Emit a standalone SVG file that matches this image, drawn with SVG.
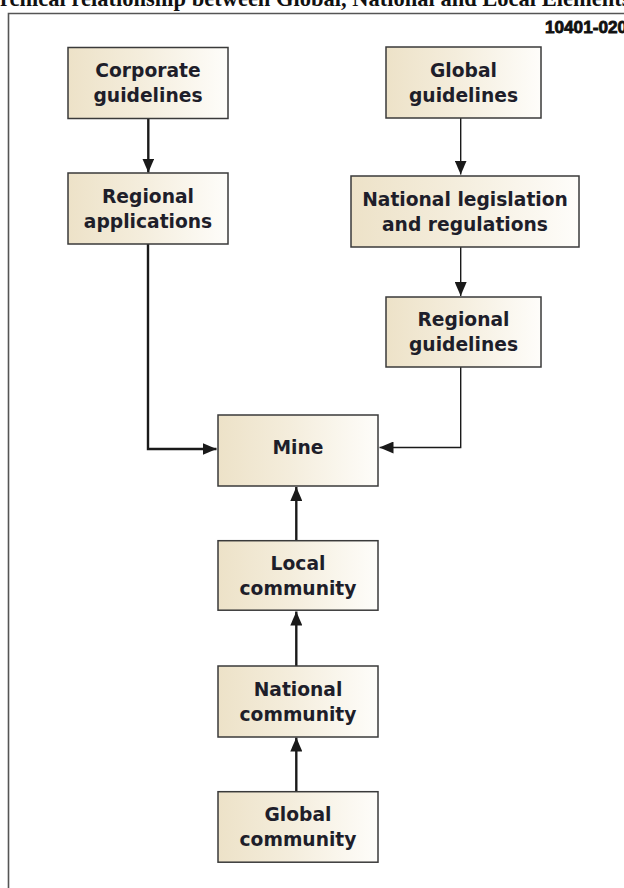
<svg xmlns="http://www.w3.org/2000/svg" width="624" height="888" viewBox="0 0 624 888">
<defs>
<linearGradient id="bf" x1="0" y1="0" x2="1" y2="0">
<stop offset="0" stop-color="#ede2c8"/>
<stop offset="0.45" stop-color="#f4eddc"/>
<stop offset="1" stop-color="#fefdfa"/>
</linearGradient>
<marker id="ah" markerUnits="userSpaceOnUse" markerWidth="14" markerHeight="12" refX="14" refY="6" orient="auto">
<path d="M0,0 L14,6 L0,12 z" fill="#1a1a1a"/>
</marker>
</defs>
<style>
.box{fill:url(#bf);stroke:#3a3a3a;stroke-width:1.5}
.lbl{font-family:"DejaVu Sans",Verdana,sans-serif;font-weight:bold;font-size:18.7px;fill:#1e1e2a;text-anchor:middle}
.c{fill:none;stroke:#1a1a1a;marker-end:url(#ah)}
.thick{stroke-width:2.4}
.thin{stroke-width:1.4}
</style>
<rect width="624" height="888" fill="#ffffff"/>
<text x="-55" y="6" font-family="Liberation Serif,serif" font-weight="bold" font-size="22.5" fill="#111">Hierarchical relationship between Global, National and Local Elements</text>
<path d="M8.5,888 V13.5 H624" fill="none" stroke="#555" stroke-width="1.6"/>
<text x="545" y="33.3" font-family="Liberation Sans,Arial,sans-serif" font-weight="bold" font-size="16.5" fill="#111" stroke="#111" stroke-width="0.8" textLength="82" lengthAdjust="spacingAndGlyphs">10401-020</text>

<g id="connectors">
<path class="c thick" d="M148.3,118.5 V172.5"/>
<path class="c thin" d="M460.7,118 V174.5"/>
<path class="c thin" d="M460.7,247 V296"/>
<path class="c thick" d="M148,244 V449 H216.5"/>
<path class="c thin" d="M460.7,367 V447.5 H379.5"/>
<path class="c thick" d="M296.3,540.7 V487"/>
<path class="c thick" d="M296.3,666 V611.5"/>
<path class="c thick" d="M296.3,791.7 V737.5"/>
</g>

<g id="corporate-guidelines">
<rect class="box" x="68" y="47.5" width="160" height="71"/>
<text class="lbl" x="148" y="77.4">Corporate</text>
<text class="lbl" x="148" y="102.4">guidelines</text>
</g>
<g id="regional-applications">
<rect class="box" x="68" y="173" width="160" height="71"/>
<text class="lbl" x="148" y="202.9">Regional</text>
<text class="lbl" x="148" y="227.9">applications</text>
</g>
<g id="global-guidelines">
<rect class="box" x="386" y="47" width="155" height="71"/>
<text class="lbl" x="463.5" y="76.9">Global</text>
<text class="lbl" x="463.5" y="101.9">guidelines</text>
</g>
<g id="national-legislation">
<rect class="box" x="351" y="176" width="228" height="71"/>
<text class="lbl" x="465" y="205.9">National legislation</text>
<text class="lbl" x="465" y="230.9">and regulations</text>
</g>
<g id="regional-guidelines">
<rect class="box" x="386" y="297" width="155" height="70"/>
<text class="lbl" x="463.5" y="326.4">Regional</text>
<text class="lbl" x="463.5" y="351.4">guidelines</text>
</g>
<g id="mine">
<rect class="box" x="218" y="415" width="160" height="71"/>
<text class="lbl" x="298" y="454">Mine</text>
</g>
<g id="local-community">
<rect class="box" x="218" y="540.7" width="160" height="69.5"/>
<text class="lbl" x="298" y="569.8">Local</text>
<text class="lbl" x="298" y="594.8">community</text>
</g>
<g id="national-community">
<rect class="box" x="218" y="666" width="160" height="71"/>
<text class="lbl" x="298" y="695.9">National</text>
<text class="lbl" x="298" y="720.9">community</text>
</g>
<g id="global-community">
<rect class="box" x="218" y="791.7" width="160" height="70.5"/>
<text class="lbl" x="298" y="821.3">Global</text>
<text class="lbl" x="298" y="846.3">community</text>
</g>
</svg>
